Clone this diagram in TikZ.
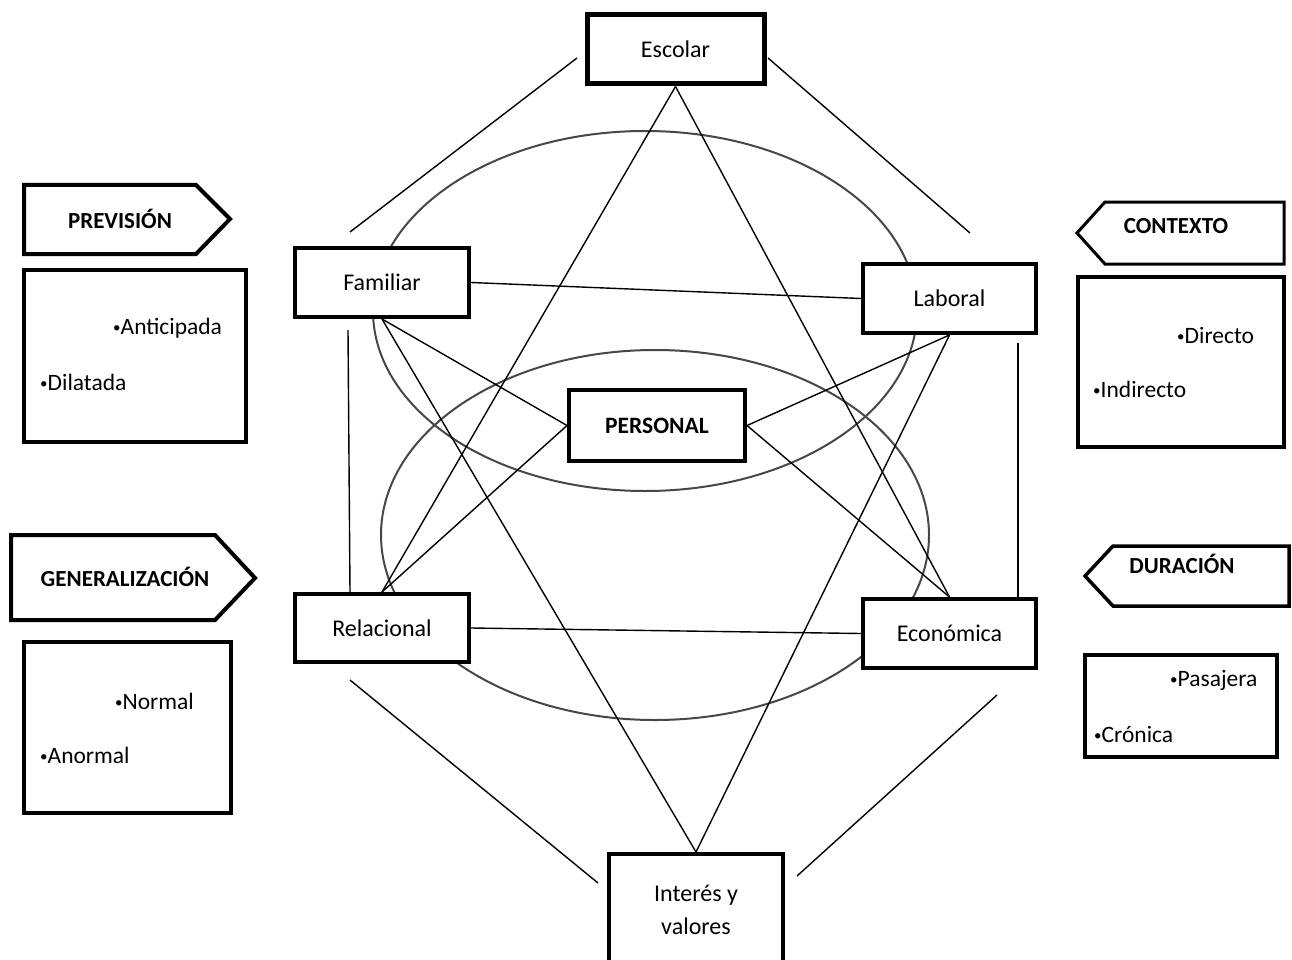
\documentclass[tikz,border=0pt]{standalone}
\usepackage{fontspec}
\setmainfont{Carlito}
\usetikzlibrary{backgrounds}
\newcommand{\bul}{{\fontsize{15}{15}\selectfont\raisebox{1.5pt}{•}}}
\begin{document}
\begin{tikzpicture}[x=1pt,y=-1pt,
 box/.style={draw, line width=4pt, fill=white, inner sep=0pt, font=\fontsize{24}{28}\selectfont},
 conn/.style={line width=1.4pt},
 ell/.style={draw=black!72, line width=2pt},
 tag/.style={line width=4pt, fill=white, line join=miter},
 tagtext/.style={font=\bfseries\fontsize{23}{27}\selectfont, inner sep=0pt},
 item/.style={font=\fontsize{23.5}{27}\selectfont, anchor=west, inner sep=0pt}]
\useasboundingbox (0,0) rectangle (1292,960);
\clip (0,0) rectangle (1292,960);

% main boxes
\node[box, line width=5pt, minimum width=177pt, minimum height=69pt] (esc) at (675.5,49.5) {Escolar};
\node[box, minimum width=174pt, minimum height=69pt] (fam) at (382,282.5) {Familiar};
\node[box, minimum width=173pt, minimum height=69pt] (lab) at (949.5,298.5) {Laboral};
\node[box, minimum width=176pt, minimum height=71pt, font=\bfseries\fontsize{23.5}{27}\selectfont] (per) at (657,425.5) {PERSONAL};
\node[box, minimum width=174pt, minimum height=68pt] (rel) at (382,628) {Relacional};
\node[box, minimum width=173pt, minimum height=69pt] (eco) at (949.5,633.5) {Económica};
\node[box, minimum width=174pt, minimum height=150pt, anchor=north] (int) at (696,852) {};
\node[font=\fontsize{24}{33}\selectfont, align=center, inner sep=0pt] (intl) at (696,909.5) {Interés y\\valores};

% free-end coordinates
\coordinate (a1) at (350,232); \coordinate (a2) at (577,58);
\coordinate (b1) at (768,58);  \coordinate (b2) at (970,233);
\coordinate (c1) at (348,330); \coordinate (c2) at (350,592);
\coordinate (d1) at (1018,343); \coordinate (d2) at (1018,597);
\coordinate (e1) at (350,680); \coordinate (e2) at (598,883);
\coordinate (f1) at (997,695); \coordinate (f2) at (797,876);

\begin{pgfonlayer}{background}
 \fill[white] (0,0) rectangle (1292,960);
 \draw[ell] (645,311) ellipse [x radius=272, y radius=180];
 \draw[ell] (655,535) ellipse [x radius=274, y radius=185];
 % outer hexagon segments
 \draw[conn] (a1) -- (a2);
 \draw[conn] (b1) -- (b2);
 \draw[conn] (c1) -- (c2);
 \draw[conn] (d1) -- (d2);
 \draw[conn] (e1) -- (e2);
 \draw[conn] (f1) -- (f2);
 % horizontal links
 \draw[conn] (fam.east) -- (lab.west);
 \draw[conn] (rel.east) -- (eco.west);
 % star lines
 \draw[conn] (esc.south) -- (rel.north);
 \draw[conn] (esc.south) -- (eco.north);
 \draw[conn] (int.north) -- (fam.south);
 \draw[conn] (int.north) -- (lab.south);
 \draw[conn] (fam.south) -- (per.west);
 \draw[conn] (rel.north) -- (per.west);
 \draw[conn] (lab.south) -- (per.east);
 \draw[conn] (eco.north) -- (per.east);
\end{pgfonlayer}

% left tags
\draw[tag] (24,185) -- (196,185) -- (230,219) -- (196,254) -- (24,254) -- cycle;
\node[tagtext] (prev) at (120,219) {PREVISIÓN};
\draw[line width=4pt] (24,270) rectangle (246,442);
\node[item] (antic) at (113,328) {\bul Anticipada};
\node[item] (dilat) at (40,382) {\bul Dilatada};

\draw[tag] (11,535) -- (215,535) -- (255,578) -- (215,620) -- (11,620) -- cycle;
\node[tagtext] (gen) at (125,577) {GENERALIZACIÓN};
\draw[line width=4pt] (24,642) rectangle (231,813);
\node[item] (norm) at (115,701) {\bul Normal};
\node[item] (anorm) at (40,755) {\bul Anormal};

% right tags
\draw[tag, line width=3pt] (1284,202) -- (1105,202) -- (1077,233) -- (1105,264) -- (1284,264) -- cycle;
\node[tagtext] (ctx) at (1176,226) {CONTEXTO};
\draw[line width=4pt] (1078,277) rectangle (1284,447);
\node[item] (dir) at (1177,335) {\bul Directo};
\node[item] (indir) at (1093,389) {\bul Indirecto};

\draw[tag, line width=3.5pt] (1289,546) -- (1113,546) -- (1085,576) -- (1113,606) -- (1289,606) -- cycle;
\node[tagtext] (dur) at (1182,564) {DURACIÓN};
\draw[line width=4pt] (1085,655) rectangle (1277,757);
\node[item] (pas) at (1170,680) {\bul Pasajera};
\node[item] (cro) at (1094,734) {\bul Crónica};
\end{tikzpicture}
\end{document}
